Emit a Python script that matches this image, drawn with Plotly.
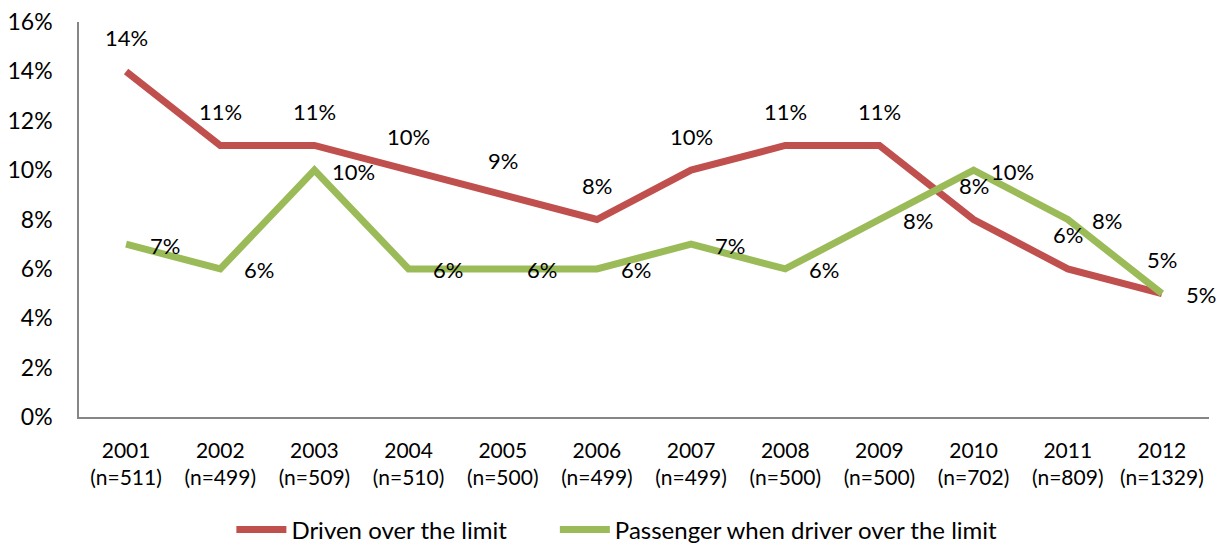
import plotly.graph_objects as go

# data
years = ["2001", "2002", "2003", "2004", "2005", "2006",
         "2007", "2008", "2009", "2010", "2011", "2012"]
sample_sizes = [511, 499, 509, 510, 500, 499, 499, 500, 500, 702, 809, 1329]
driven_over = [14, 11, 11, 10, 9, 8, 10, 11, 11, 8, 6, 5]
passenger_over = [7, 6, 10, 6, 6, 6, 7, 6, 8, 10, 8, 5]

RED = "#C0504D"
GREEN = "#9BBB59"
FONT = "Lato, Calibri, sans-serif"

categories = [f"{y}<br>(n={n})" for y, n in zip(years, sample_sizes)]

fig = go.Figure()
fig.add_trace(go.Scatter(
    x=categories, y=driven_over, mode="lines",
    name="Driven over the limit" + "\u00a0" * 7,
    line=dict(color=RED, width=7),
))
fig.add_trace(go.Scatter(
    x=categories, y=passenger_over, mode="lines",
    name="Passenger when driver over the limit",
    line=dict(color=GREEN, width=7),
))

# data labels: red above the point, green to the right
for cat, v in zip(categories, driven_over):
    fig.add_annotation(x=cat, y=v, text=f"{v}%", showarrow=False,
                       yshift=34, font=dict(size=22, color="black", family=FONT))
for cat, v in zip(categories, passenger_over):
    fig.add_annotation(x=cat, y=v, text=f"{v}%", showarrow=False,
                       xshift=39, yshift=-1, font=dict(size=22, color="black", family=FONT))

# the page body adds an 8px margin, so the figure is 8px smaller each way
fig.update_layout(
    width=1217, height=537,
    margin=dict(l=71, r=16, t=14, b=128, autoexpand=False),
    paper_bgcolor="white", plot_bgcolor="white",
    font=dict(family=FONT, color="black"),
    showlegend=True,
    legend=dict(orientation="h", x=0.476, xanchor="center", y=-0.286, yanchor="middle",
                font=dict(size=24), itemwidth=50),
)
fig.update_xaxes(
    range=[-0.5, 11.5], showgrid=False, zeroline=False, automargin=False,
    showline=True, linecolor="#868686", linewidth=1.5,
    tickfont=dict(size=21), ticks="", ticklabelstandoff=14,
    ticklabeloverflow="allow",
)
fig.update_yaxes(
    range=[0, 16], dtick=2, showgrid=False, zeroline=False, automargin=False,
    showline=True, linecolor="#868686", linewidth=1.5,
    ticksuffix="%", tickfont=dict(size=23), ticks="", ticklabelstandoff=20,
    ticklabeloverflow="allow",
)

fig.write_html("out.html")
